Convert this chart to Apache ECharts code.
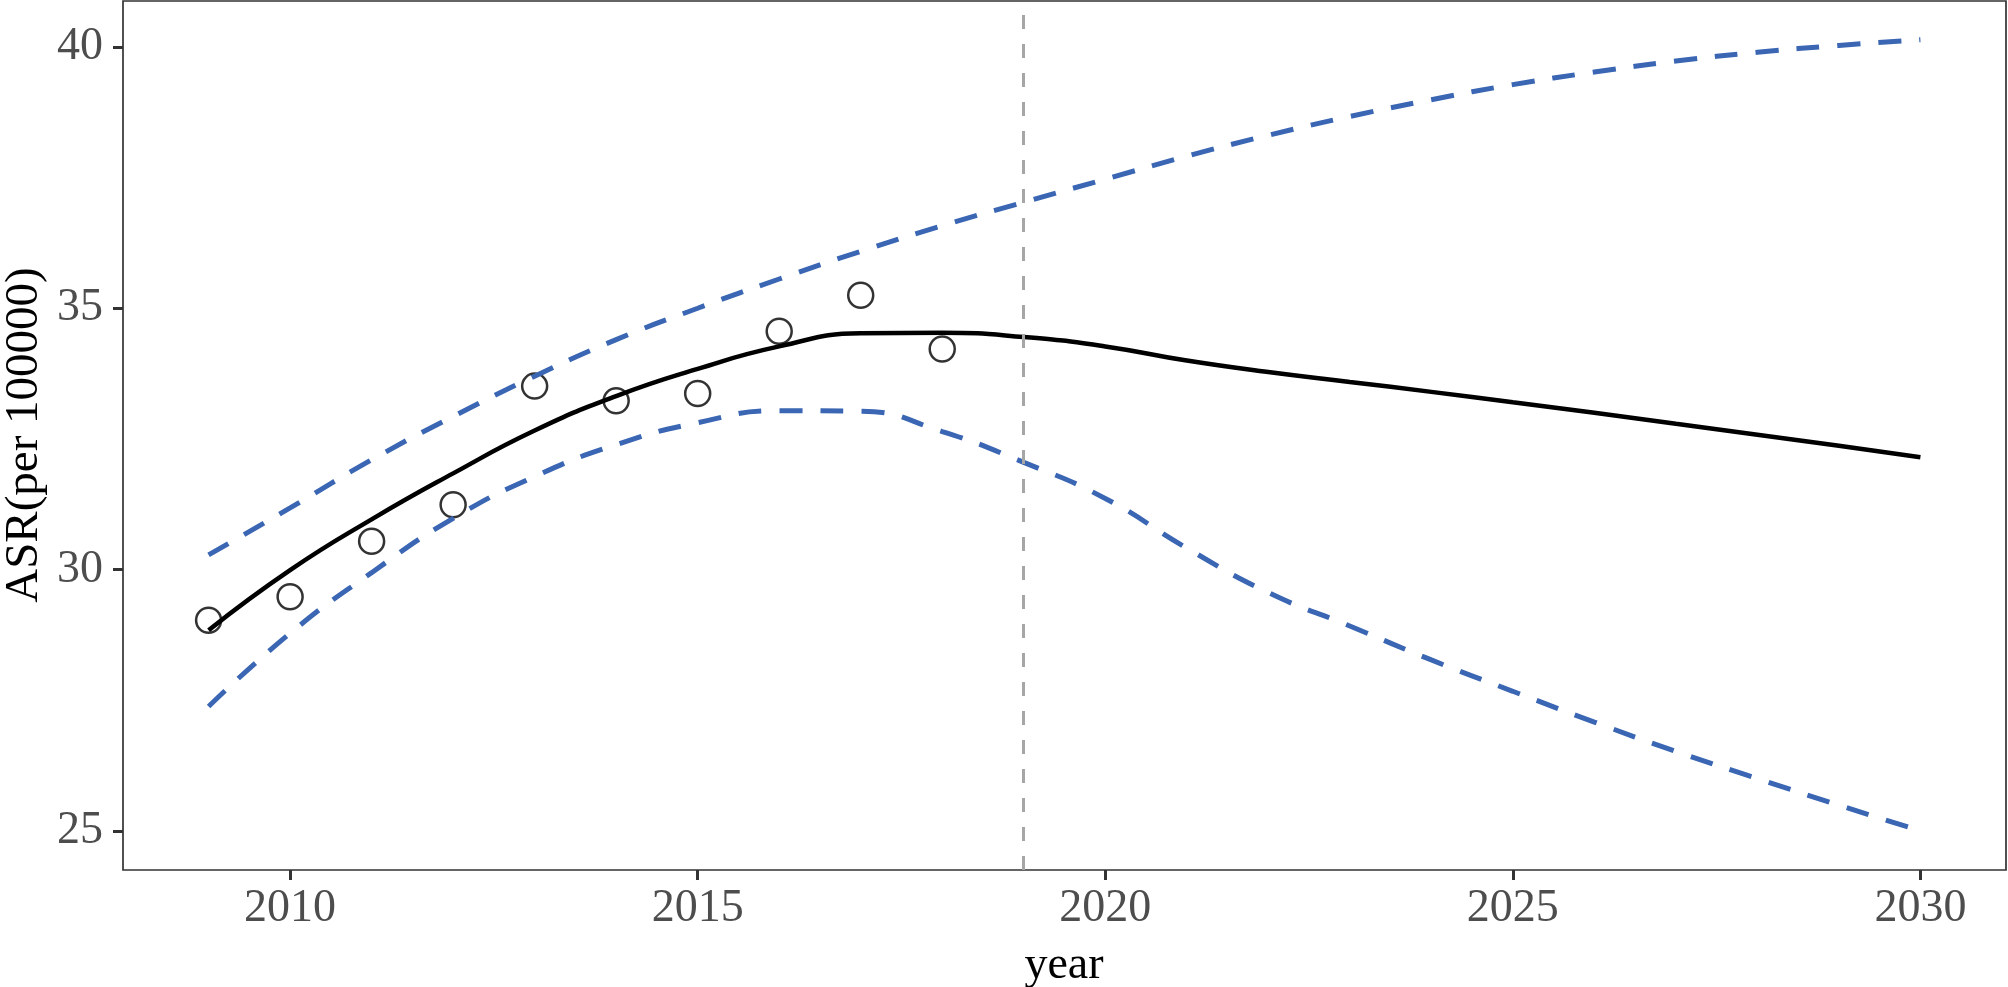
<!DOCTYPE html>
<html>
<head>
<meta charset="utf-8">
<script src="https://cdn.jsdelivr.net/npm/echarts@6/dist/echarts.min.js"></script>
<style>
  html, body { margin: 0; padding: 0; background: #fff; }
  #chart { width: 2008px; height: 987px; }
</style>
</head>
<body>
<div id="chart"></div>
<script>
// ---- data ----
const years = [2009, 2010, 2011, 2012, 2013, 2014, 2015, 2016, 2017, 2018, 2019,
               2020, 2021, 2022, 2023, 2024, 2025, 2026, 2027, 2028, 2029, 2030];
const observedYears = [2009, 2010, 2011, 2012, 2013, 2014, 2015, 2016, 2017, 2018];
const observed = [29.03, 29.48, 30.54, 31.24, 33.51, 33.23, 33.37, 34.56, 35.25, 34.22];
const fitted = [28.84, 29.99, 30.96, 31.84, 32.66, 33.32, 33.84, 34.27, 34.52, 34.53, 34.45,
                34.27, 34.00, 33.78, 33.59, 33.40, 33.20, 33.00, 32.79, 32.58, 32.37, 32.15];
const upper = [30.28, 31.18, 32.10, 32.93, 33.70, 34.40, 35.00, 35.56, 36.09, 36.58, 37.03,
               37.47, 37.91, 38.31, 38.67, 38.99, 39.28, 39.52, 39.73, 39.90, 40.03, 40.14];
const lower = [27.38, 28.78, 29.94, 30.98, 31.78, 32.39, 32.81, 33.04, 33.03, 32.64, 32.05,
               31.36, 30.41, 29.56, 28.92, 28.27, 27.67, 27.08, 26.52, 26.00, 25.49, 25.00];
const xTicks = [2010, 2015, 2020, 2025, 2030];
const yTicks = [25, 30, 35, 40];
const cutYear = 2019;
const xTitle = 'year';
const yTitle = 'ASR(per 100000)';

const pair = (xs, ys) => xs.map((x, i) => [x, ys[i]]);

const FONT = 'Liberation Serif';
const BLUE = '#3A66B3';

const chart = echarts.init(document.getElementById('chart'), null, { renderer: 'canvas' });

const gridL = 123, gridR = 2, gridT = 1, gridB = 117;

chart.setOption({
  animation: false,
  backgroundColor: '#ffffff',
  grid: {
    left: gridL, right: gridR, top: gridT, bottom: gridB,
    show: true, borderColor: '#333333', borderWidth: 1.7, backgroundColor: 'transparent'
  },
  xAxis: {
    type: 'value', min: 2007.95, max: 2031.05,
    axisLine: { show: false },
    splitLine: { show: false },
    axisTick: { show: true, customValues: xTicks, length: 10, lineStyle: { color: '#333333', width: 3 } },
    axisLabel: { customValues: xTicks, margin: 16, color: '#4D4D4D', fontFamily: FONT, fontSize: 46,
                 formatter: v => String(v) }
  },
  yAxis: {
    type: 'value', min: 24.25, max: 40.88,
    axisLine: { show: false },
    splitLine: { show: false },
    axisTick: { show: true, customValues: yTicks, length: 10, lineStyle: { color: '#333333', width: 3 } },
    axisLabel: { customValues: yTicks, margin: 20, color: '#4D4D4D', fontFamily: FONT, fontSize: 46,
                 formatter: v => String(v) }
  },
  graphic: [
    {
      type: 'text', x: 1064, y: 966,
      style: { text: xTitle, fontFamily: FONT, fontSize: 46, fill: '#000', textAlign: 'center', textVerticalAlign: 'middle' }
    },
    {
      type: 'text', x: 25, y: 435, rotation: Math.PI / 2,
      style: { text: yTitle, fontFamily: FONT, fontSize: 47, fill: '#000', textAlign: 'center', textVerticalAlign: 'middle' }
    }
  ],
  series: [
    {
      name: 'observed', type: 'scatter', data: pair(observedYears, observed),
      symbol: 'circle', symbolSize: 25, z: 2,
      itemStyle: { color: 'rgba(0,0,0,0)', borderColor: '#000', borderWidth: 2.5 }
    },
    {
      name: 'fitted', type: 'line', data: pair(years, fitted), smooth: 0.5,
      showSymbol: false, z: 3,
      lineStyle: { color: '#000', width: 4.5 }
    },
    {
      name: 'upper', type: 'line', data: pair(years, upper), smooth: 0.5,
      showSymbol: false, z: 3,
      lineStyle: { color: BLUE, width: 5, type: [23, 18] }
    },
    {
      name: 'lower', type: 'line', data: pair(years, lower), smooth: 0.5,
      showSymbol: false, z: 3,
      lineStyle: { color: BLUE, width: 5, type: [23, 18] },
      markLine: {
        silent: true, symbol: 'none', label: { show: false },
        lineStyle: { color: '#A6A6A6', width: 3, type: [14, 15] },
        data: [{ xAxis: cutYear }]
      }
    }
  ]
});
</script>
</body>
</html>
